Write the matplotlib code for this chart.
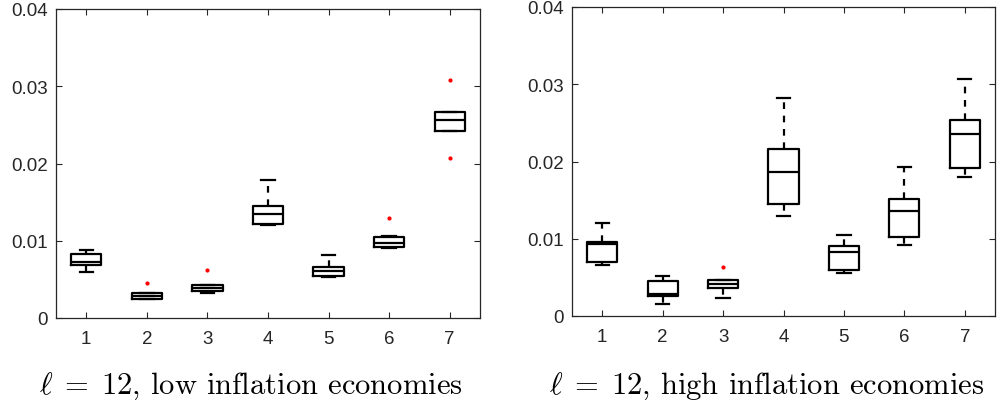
import matplotlib
matplotlib.use("Agg")
import matplotlib.pyplot as plt

plt.rcParams['mathtext.fontset'] = 'cm'

groups = [1, 2, 3, 4, 5, 6, 7]
ytick_vals = [0, 0.01, 0.02, 0.03, 0.04]
ytick_labels = ['0', '0.01', '0.02', '0.03', '0.04']

# low inflation economies: lower whisker, q1, median, q3, upper whisker, outliers
low_whislo = [0.0059, 0.0024, 0.0032, 0.0120, 0.0053, 0.0090, 0.02425]
low_q1 = [0.0069, 0.0025, 0.0035, 0.01217, 0.00544, 0.00915, 0.02425]
low_med = [0.0073, 0.0029, 0.0039, 0.0135, 0.0061, 0.00967, 0.02567]
low_q3 = [0.0083, 0.0033, 0.0043, 0.01446, 0.00665, 0.01053, 0.02662]
low_whishi = [0.0088, 0.0033, 0.0043, 0.0178, 0.0081, 0.0106, 0.02662]
low_fliers = [[], [0.00457], [0.0062], [], [], [0.01295], [0.03077, 0.02067]]

# high inflation economies
high_whislo = [0.0066, 0.0016, 0.0023, 0.01292, 0.00557, 0.00924, 0.01797]
high_q1 = [0.00704, 0.0026, 0.00359, 0.01451, 0.00596, 0.01024, 0.01914]
high_med = [0.00929, 0.00285, 0.0041, 0.01862, 0.00825, 0.01356, 0.02359]
high_q3 = [0.00963, 0.0045, 0.00467, 0.02164, 0.00903, 0.01516, 0.0254]
high_whishi = [0.01205, 0.00518, 0.00467, 0.02816, 0.0105, 0.01931, 0.03067]
high_fliers = [[], [], [0.00635], [], [], [], []]

captions = [r'$\ell\;=\;12$, low inflation economies',
            r'$\ell\;=\;12$, high inflation economies']


def make_stats(whislo, q1, med, q3, whishi, fliers):
    stats = []
    for i in range(len(groups)):
        stats.append({'whislo': whislo[i], 'q1': q1[i], 'med': med[i],
                      'q3': q3[i], 'whishi': whishi[i], 'fliers': fliers[i]})
    return stats


def draw_panel(ax, stats):
    lw = 1.6
    ax.bxp(stats, positions=groups, widths=0.5, capwidths=0.22,
           showfliers=True,
           boxprops=dict(color='black', linewidth=lw),
           medianprops=dict(color='black', linewidth=lw),
           whiskerprops=dict(color='black', linewidth=lw, linestyle=(0, (3, 3))),
           capprops=dict(color='black', linewidth=lw),
           flierprops=dict(marker='o', markersize=3, markerfacecolor='red',
                           markeredgecolor='none'))
    ax.set_xlim(0.5, 7.5)
    ax.set_ylim(0, 0.04)
    ax.set_xticks(groups)
    ax.set_xticklabels([str(g) for g in groups])
    ax.set_yticks(ytick_vals)
    ax.set_yticklabels(ytick_labels)
    ax.tick_params(direction='in', top=True, right=True, length=4,
                   width=0.8, colors='0.15', labelsize=13.5, pad=6)
    ax.tick_params(axis='x', pad=9)
    for sp in ax.spines.values():
        sp.set_color('0.15')
        sp.set_linewidth(0.9)
    for lab in ax.get_xticklabels() + ax.get_yticklabels():
        lab.set_family('Liberation Sans')


fig = plt.figure(figsize=(9.97, 4.10), dpi=100)
ax1 = fig.add_axes([56 / 997, 91 / 410, 424 / 997, 309 / 410])
ax2 = fig.add_axes([572 / 997, 93 / 410, 423 / 997, 309 / 410])

draw_panel(ax1, make_stats(low_whislo, low_q1, low_med, low_q3, low_whishi, low_fliers))
draw_panel(ax2, make_stats(high_whislo, high_q1, high_med, high_q3, high_whishi, high_fliers))

fig.text(251 / 997, 0.039, captions[0], ha='center', va='baseline',
         fontsize=22, family='cmr10')
fig.text(767 / 997, 0.039, captions[1], ha='center', va='baseline',
         fontsize=22, family='cmr10')

fig.savefig('out.png', dpi=100)
